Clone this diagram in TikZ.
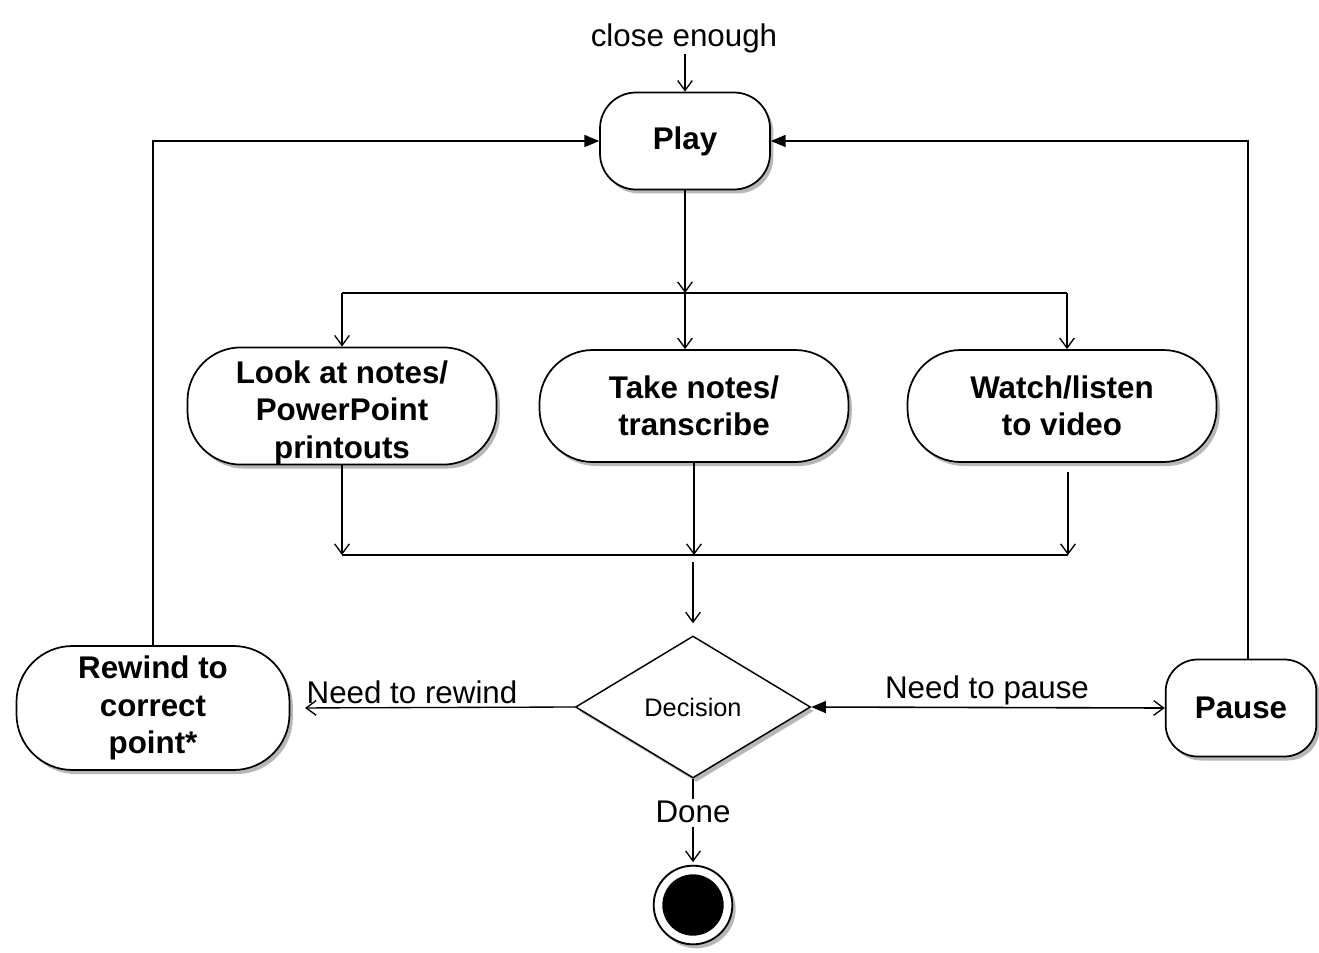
\documentclass[tikz,border=0pt]{standalone}
\usepackage{fontspec}
\setmainfont{Liberation Sans}
\usetikzlibrary{arrows.meta,shapes.geometric,shadows,calc}
\begin{document}
\begin{tikzpicture}[x=0.75pt,y=-0.75pt,
  shad/.style={drop shadow={shadow xshift=2.5pt,shadow yshift=-3pt,opacity=0.4,fill=black!70}},
  box/.style={draw,line width=1.3pt,fill=white,rounded corners=#1,align=center,
    font=\fontsize{23.5}{28}\selectfont\bfseries,inner sep=0pt,shad},
  box/.default=28pt,
  lbl/.style={font=\fontsize{23.5}{28}\selectfont,inner sep=1pt},
  oarr/.style={line width=1pt,-{Straight Barb[length=7.5pt,width=11pt,line width=1pt]}},
  farr/.style={line width=1pt,-{Triangle[length=11pt,width=9pt]}},
  ln/.style={line width=1pt}]
\useasboundingbox (0,0) rectangle (1319,952);

% nodes
\node[box=27pt,minimum width=127.5pt,minimum height=72.75pt] (play) at (685,141) {Play};
\node[box=40pt,minimum width=231.75pt,minimum height=84pt] (look) at (342,406) {\rule{0pt}{27pt}Look at notes/\\PowerPoint\\printouts};
\node[box=40pt,minimum width=231.75pt,minimum height=84pt] (take) at (694,406) {Take notes/\\transcribe};
\node[box=40pt,minimum width=231.75pt,minimum height=84pt] (watch) at (1062,406) {Watch/listen\\to video};
\node[box=42pt,minimum width=204.75pt,minimum height=93pt] (rewind) at (153,708) {Rewind to\\correct\\point*};
\node[box=24pt,minimum width=113pt,minimum height=72.75pt] (pause) at (1241,708) {Pause};
\node[diamond,draw,line width=1.1pt,fill=white,shad,inner sep=0pt,aspect=1.655,
  minimum width=176.25pt,minimum height=106.5pt,font=\fontsize{19}{22}\selectfont] (dec) at (693,707) {Decision};
\node[circle,draw,line width=1.4pt,fill=white,minimum size=59pt,inner sep=0pt,shad] (end) at (693,905) {};
\node[circle,fill=black,minimum size=46pt,inner sep=0pt] (endin) at (end.center) {};

% labels
\node[lbl] (ce) at (684,38) {close enough};
\node[lbl] (rw) at (412,692) {Need to rewind};
\node[lbl] (pz) at (987,690) {Need to pause};
\node[lbl] (done) at (693,812) {Done};

% coordinates
\coordinate (fork) at (685,293);
\coordinate (forkL) at (342,293);
\coordinate (forkR) at (1067,293);
\coordinate (joinL) at (342,555);
\coordinate (joinM) at (694,555);
\coordinate (joinR) at (1068,555);

% connectors
\draw[oarr] (ce.south -| play.north) -- (play.north);
\draw[oarr] (play.south) -- (fork);
\draw[ln] (forkL) -- (forkR);
\draw[oarr] (forkL) -- (forkL |- look.north);
\draw[oarr] (fork) -- (fork |- take.north);
\draw[oarr] (forkR) -- (forkR |- watch.north);
\draw[oarr] (joinL |- look.south) -- (joinL);
\draw[oarr] (take.south) -- (joinM);
\draw[oarr, shorten <=7pt] (joinR |- watch.south) -- (joinR);
\draw[ln] (joinL) -- (joinR);
\draw[oarr, shorten <=5pt, shorten >=9pt] (dec.north |- joinM) -- (dec.north);
\draw[oarr, shorten >=11pt] (dec.west) -- (rewind.east);
\draw[line width=1.2pt,{Triangle[length=11pt,width=9pt]}-{Straight Barb[length=7.5pt,width=11pt,line width=1pt]}] (dec.east) -- (pause.west);
\draw[ln] (dec.south) -- (done.north);
\draw[oarr, shorten <=2pt, shorten >=2pt] (done.south) -- (end.north);
\draw[farr] (rewind.north) |- (play.west);
\draw[farr] ($(pause.north)+(7,0)$) |- (play.east);
\end{tikzpicture}
\end{document}
